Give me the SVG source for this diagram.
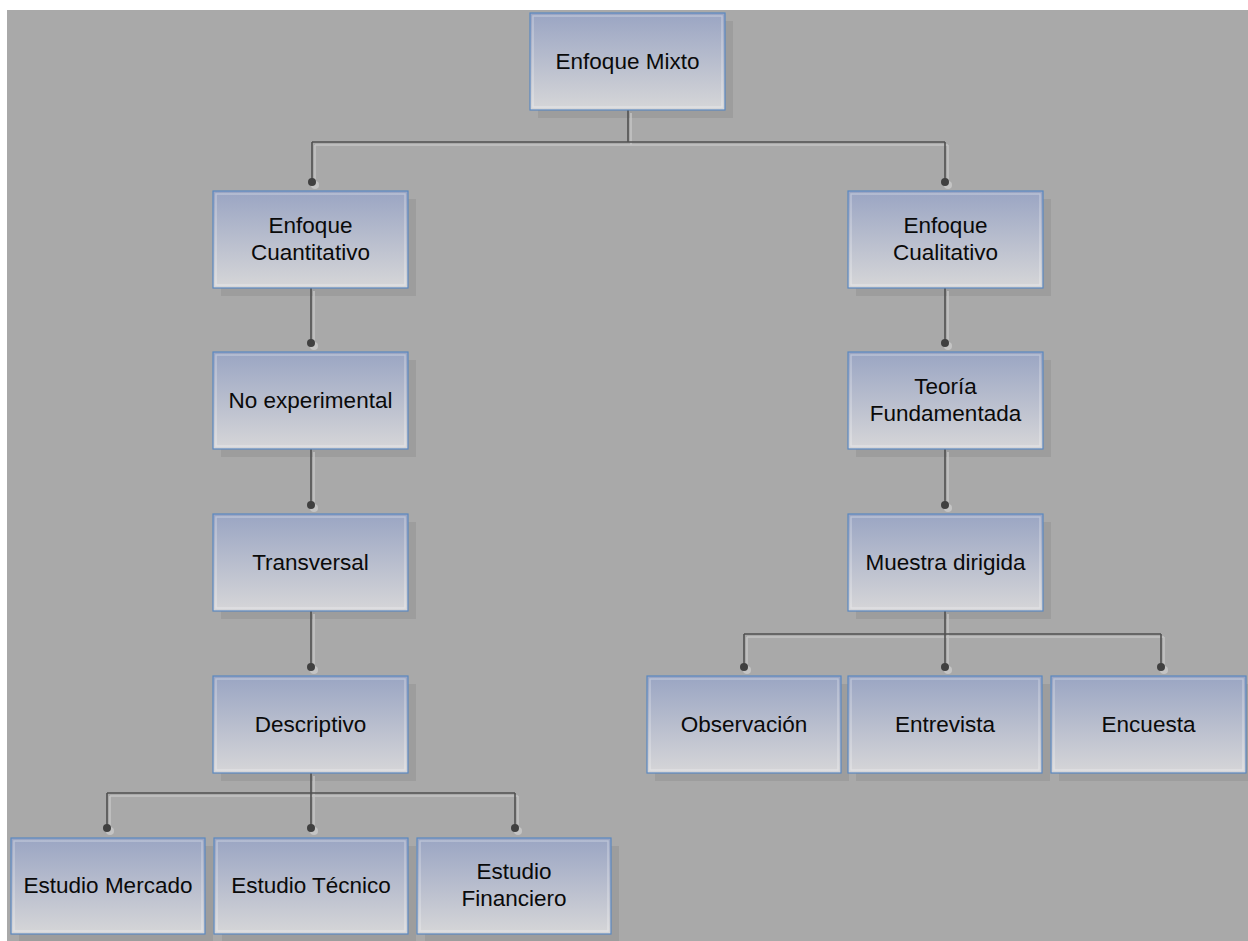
<svg xmlns="http://www.w3.org/2000/svg" width="1248" height="941" viewBox="0 0 1248 941">
<defs>
<linearGradient id="g" x1="0" y1="0" x2="0" y2="1">
<stop offset="0" stop-color="#9aa5c3"/>
<stop offset="1" stop-color="#d6d6d8"/>
</linearGradient>
<style>
.sh{fill:#9d9d9d}
.bx{fill:url(#g);stroke:#5a88c0;stroke-width:1.2}
.hi{fill:none;stroke:#ffffff;stroke-opacity:0.3;stroke-width:1.5}
.t{font-family:"Liberation Sans",Arial,sans-serif;font-size:22.5px;fill:#0a0a0a;text-anchor:middle}
.ln{fill:none;stroke:#505050;stroke-width:1.6}
.lnl{fill:none;stroke:#c4c4c4;stroke-width:1.6}
.dot{fill:#404040}
.dotl{fill:#c4c4c4}
</style>
</defs>
<rect x="7" y="10" width="1241" height="931" fill="#a9a9a9"/>

<g id="shadows">
<rect class="sh" x="538" y="21" width="195" height="97"/>
<rect class="sh" x="221" y="199" width="195" height="97"/>
<rect class="sh" x="856" y="199" width="195" height="97"/>
<rect class="sh" x="221" y="360" width="195" height="97"/>
<rect class="sh" x="856" y="360" width="195" height="97"/>
<rect class="sh" x="221" y="522" width="195" height="97"/>
<rect class="sh" x="856" y="522" width="195" height="97"/>
<rect class="sh" x="221" y="684" width="195" height="97"/>
<rect class="sh" x="655" y="684" width="194" height="97"/>
<rect class="sh" x="856" y="684" width="194" height="97"/>
<rect class="sh" x="1059" y="684" width="189" height="97"/>
<rect class="sh" x="19" y="846" width="194" height="95"/>
<rect class="sh" x="222" y="846" width="194" height="95"/>
<rect class="sh" x="425" y="846" width="194" height="95"/>
</g>

<g id="connectors">
<g transform="translate(3,3)">
<path class="lnl" d="M628 110V142M312 142H945M312 142V182M945 142V182"/>
<path class="lnl" d="M311 288V343M311 449V505M311 611V667M311 773V828M107 793H515M107 793V828M515 793V828"/>
<path class="lnl" d="M945 288V343M945 449V505M945 611V667M744 634H1161M744 634V667M1161 634V667"/>
<circle class="dotl" cx="312" cy="182" r="4"/><circle class="dotl" cx="945" cy="182" r="4"/>
<circle class="dotl" cx="311" cy="343" r="4"/><circle class="dotl" cx="311" cy="505" r="4"/><circle class="dotl" cx="311" cy="667" r="4"/>
<circle class="dotl" cx="107" cy="828" r="4"/><circle class="dotl" cx="311" cy="828" r="4"/><circle class="dotl" cx="515" cy="828" r="4"/>
<circle class="dotl" cx="945" cy="343" r="4"/><circle class="dotl" cx="945" cy="505" r="4"/>
<circle class="dotl" cx="744" cy="667" r="4"/><circle class="dotl" cx="945" cy="667" r="4"/><circle class="dotl" cx="1161" cy="667" r="4"/>
</g>
<path class="ln" d="M628 110V142M312 142H945M312 142V182M945 142V182"/>
<path class="ln" d="M311 288V343M311 449V505M311 611V667M311 773V828M107 793H515M107 793V828M515 793V828"/>
<path class="ln" d="M945 288V343M945 449V505M945 611V667M744 634H1161M744 634V667M1161 634V667"/>
<circle class="dot" cx="312" cy="182" r="4"/><circle class="dot" cx="945" cy="182" r="4"/>
<circle class="dot" cx="311" cy="343" r="4"/><circle class="dot" cx="311" cy="505" r="4"/><circle class="dot" cx="311" cy="667" r="4"/>
<circle class="dot" cx="107" cy="828" r="4"/><circle class="dot" cx="311" cy="828" r="4"/><circle class="dot" cx="515" cy="828" r="4"/>
<circle class="dot" cx="945" cy="343" r="4"/><circle class="dot" cx="945" cy="505" r="4"/>
<circle class="dot" cx="744" cy="667" r="4"/><circle class="dot" cx="945" cy="667" r="4"/><circle class="dot" cx="1161" cy="667" r="4"/>
</g>

<g id="n-mixto"><rect class="bx" x="530" y="13" width="195" height="97"/><rect class="hi" x="533" y="16" width="189" height="91"/><text class="t" x="627.5" y="69">Enfoque Mixto</text></g>
<g id="n-cuanti"><rect class="bx" x="213" y="191" width="195" height="97"/><rect class="hi" x="216" y="194" width="189" height="91"/><text class="t" x="310.5" y="233">Enfoque</text><text class="t" x="310.5" y="260">Cuantitativo</text></g>
<g id="n-cuali"><rect class="bx" x="848" y="191" width="195" height="97"/><rect class="hi" x="851" y="194" width="189" height="91"/><text class="t" x="945.5" y="233">Enfoque</text><text class="t" x="945.5" y="260">Cualitativo</text></g>
<g id="n-noexp"><rect class="bx" x="213" y="352" width="195" height="97"/><rect class="hi" x="216" y="355" width="189" height="91"/><text class="t" x="310.5" y="408">No experimental</text></g>
<g id="n-teoria"><rect class="bx" x="848" y="352" width="195" height="97"/><rect class="hi" x="851" y="355" width="189" height="91"/><text class="t" x="945.5" y="394">Teoría</text><text class="t" x="945.5" y="421">Fundamentada</text></g>
<g id="n-transv"><rect class="bx" x="213" y="514" width="195" height="97"/><rect class="hi" x="216" y="517" width="189" height="91"/><text class="t" x="310.5" y="570">Transversal</text></g>
<g id="n-muestra"><rect class="bx" x="848" y="514" width="195" height="97"/><rect class="hi" x="851" y="517" width="189" height="91"/><text class="t" x="945.5" y="570">Muestra dirigida</text></g>
<g id="n-descr"><rect class="bx" x="213" y="676" width="195" height="97"/><rect class="hi" x="216" y="679" width="189" height="91"/><text class="t" x="310.5" y="732">Descriptivo</text></g>
<g id="n-obs"><rect class="bx" x="647" y="676" width="194" height="97"/><rect class="hi" x="650" y="679" width="188" height="91"/><text class="t" x="744" y="732">Observación</text></g>
<g id="n-entre"><rect class="bx" x="848" y="676" width="194" height="97"/><rect class="hi" x="851" y="679" width="188" height="91"/><text class="t" x="945" y="732">Entrevista</text></g>
<g id="n-encu"><rect class="bx" x="1051" y="676" width="195" height="97"/><rect class="hi" x="1054" y="679" width="189" height="91"/><text class="t" x="1148.5" y="732">Encuesta</text></g>
<g id="n-merc"><rect class="bx" x="11" y="838" width="194" height="96"/><rect class="hi" x="14" y="841" width="188" height="90"/><text class="t" x="108" y="893">Estudio Mercado</text></g>
<g id="n-tec"><rect class="bx" x="214" y="838" width="194" height="96"/><rect class="hi" x="217" y="841" width="188" height="90"/><text class="t" x="311" y="893">Estudio Técnico</text></g>
<g id="n-fin"><rect class="bx" x="417" y="838" width="194" height="96"/><rect class="hi" x="420" y="841" width="188" height="90"/><text class="t" x="514" y="879">Estudio</text><text class="t" x="514" y="906">Financiero</text></g>
</svg>
